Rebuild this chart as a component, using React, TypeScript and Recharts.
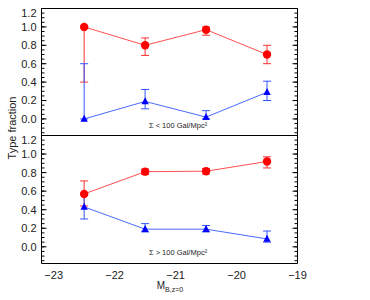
import React from "react";
import { LineChart, Line, XAxis, YAxis, ErrorBar, ReferenceDot } from "recharts";

const FONT = "'Liberation Sans', Arial, Helvetica, sans-serif";

// magnitude bins, M_B at z=0
const magBins = [-22.5, -21.5, -20.5, -19.5];

// Σ < 100 Gal/Mpc²
const lowEarly = [1.0, 0.8, 0.97, 0.7];
const lowEarlyLo = [0.4, 0.69, 0.91, 0.6];
const lowEarlyHi = [1.0, 0.88, 1.0, 0.8];
const lowLate = [0.0, 0.19, 0.02, 0.29];
const lowLateLo = [0.0, 0.11, 0.0, 0.2];
const lowLateHi = [0.6, 0.32, 0.09, 0.41];

// Σ > 100 Gal/Mpc²
const highEarly = [0.57, 0.81, 0.815, 0.92];
const highEarlyLo = [0.44, 0.78, 0.785, 0.85];
const highEarlyHi = [0.71, 0.84, 0.845, 0.97];
const highLate = [0.43, 0.19, 0.19, 0.085];
const highLateLo = [0.3, 0.16, 0.16, 0.05];
const highLateHi = [0.56, 0.25, 0.23, 0.17];

const xTicks = [-23, -22, -21, -20, -19];
const yTicks = [0, 0.2, 0.4, 0.6, 0.8, 1.0, 1.2];
const xDomain = [-23.2, -19];
const yDomain = [-0.18, 1.2];

// minor tick positions (not data)
function steps(from: number, to: number, step: number) {
  const out: number[] = [];
  for (let v = from; v <= to + 1e-9; v += step) out.push(Math.round(v * 1000) / 1000);
  return out;
}
const xMinor = steps(-23.2, -19, 0.1);
const yMinor = steps(-0.15, 1.2, 0.05);

function rows(e: number[], eLo: number[], eHi: number[], l: number[], lLo: number[], lHi: number[]) {
  return magBins.map((m, i) => ({
    mag: m,
    early: e[i],
    earlyErr: [e[i] - eLo[i], eHi[i] - e[i]],
    late: l[i],
    lateErr: [l[i] - lLo[i], lHi[i] - l[i]],
  }));
}

const lowData = rows(lowEarly, lowEarlyLo, lowEarlyHi, lowLate, lowLateLo, lowLateHi);
const highData = rows(highEarly, highEarlyLo, highEarlyHi, highLate, highLateLo, highLateHi);

const blank = () => <g />;
const minus = (v: number) => String(v).replace("-", "\u2212");
const THIN = 0.01; // mirrored tick-only axes take no room

const circleDot = (p: any) => (
  <circle key={`c-${p.index}`} cx={p.cx} cy={p.cy} r={4.2} fill="#ff0000" />
);
const triDot = (p: any) => (
  <path
    key={`t-${p.index}`}
    d={`M${p.cx},${p.cy - 4.2}L${p.cx + 3.7},${p.cy + 2.8}L${p.cx - 3.7},${p.cy + 2.8}Z`}
    fill="#0000ff"
  />
);

function YTick(props: any) {
  const { x, y, payload } = props;
  const shift = payload.value === 1.2 ? 5 : 0;
  return (
    <text x={x} y={y + shift} dy="0.355em" textAnchor="end" fontSize={11} fill="#222" fontFamily={FONT}>
      {payload.value.toFixed(1)}
    </text>
  );
}

interface PanelProps {
  data: ReturnType<typeof rows>;
  marginTop: number;
  marginBottom: number;
  showX: boolean;
  note: string;
}

function Panel({ data, marginTop, marginBottom, showX, note }: PanelProps) {
  return (
    <div style={{ position: "absolute", left: 0, top: 0 }}>
      <LineChart width={370} height={300} data={data} margin={{ top: marginTop, right: 72.5, bottom: marginBottom, left: 0 }}>
        {showX ? (
          <XAxis
            xAxisId="main" dataKey="mag" type="number" domain={xDomain} ticks={xTicks} interval={0}
            height={36.5} tickLine={false} tickSize={4} tickMargin={4} stroke="#000"
            tick={{ fill: "#222", fontSize: 11, fontFamily: FONT }} tickFormatter={minus} allowDataOverflow
          />
        ) : (
          <XAxis xAxisId="main" dataKey="mag" type="number" domain={xDomain} hide allowDataOverflow />
        )}
        <YAxis
          yAxisId="main" type="number" domain={yDomain} ticks={yTicks} interval={0} width={41.5}
          tickLine={false} tickSize={3} tickMargin={2} stroke="#000" tick={<YTick />} allowDataOverflow
        />

        {/* inward ticks and frame */}
        <XAxis xAxisId="bMaj" orientation="bottom" mirror height={THIN} type="number" domain={xDomain} ticks={xTicks} interval={0} tickSize={5} tick={blank} axisLine={!showX} stroke="#000" allowDataOverflow />
        <XAxis xAxisId="bMin" orientation="bottom" mirror height={THIN} type="number" domain={xDomain} ticks={xMinor} interval={0} tickSize={3} tick={blank} axisLine={false} stroke="#000" allowDataOverflow />
        <XAxis xAxisId="tMaj" orientation="top" mirror height={THIN} type="number" domain={xDomain} ticks={xTicks} interval={0} tickSize={5} tick={blank} stroke="#000" allowDataOverflow />
        <XAxis xAxisId="tMin" orientation="top" mirror height={THIN} type="number" domain={xDomain} ticks={xMinor} interval={0} tickSize={3} tick={blank} axisLine={false} stroke="#000" allowDataOverflow />
        <YAxis yAxisId="lMaj" orientation="left" mirror width={THIN} type="number" domain={yDomain} ticks={yTicks} interval={0} tickSize={5} tick={blank} axisLine={false} stroke="#000" allowDataOverflow />
        <YAxis yAxisId="lMin" orientation="left" mirror width={THIN} type="number" domain={yDomain} ticks={yMinor} interval={0} tickSize={3} tick={blank} axisLine={false} stroke="#000" allowDataOverflow />
        <YAxis yAxisId="rMaj" orientation="right" mirror width={THIN} type="number" domain={yDomain} ticks={yTicks} interval={0} tickSize={5} tick={blank} stroke="#000" allowDataOverflow />
        <YAxis yAxisId="rMin" orientation="right" mirror width={THIN} type="number" domain={yDomain} ticks={yMinor} interval={0} tickSize={3} tick={blank} axisLine={false} stroke="#000" allowDataOverflow />

        <Line
          xAxisId="main" yAxisId="main" dataKey="early" type="linear" stroke="#ff5050" strokeWidth={1}
          dot={circleDot} activeDot={false} isAnimationActive={false}
        >
          <ErrorBar dataKey="earlyErr" direction="y" width={4} stroke="#ff3030" strokeWidth={1} />
        </Line>
        <Line
          xAxisId="main" yAxisId="main" dataKey="late" type="linear" stroke="#4a6bff" strokeWidth={1}
          dot={triDot} activeDot={false} isAnimationActive={false}
        >
          <ErrorBar dataKey="lateErr" direction="y" width={4} stroke="#3355ff" strokeWidth={1} />
        </Line>

        <ReferenceDot
          xAxisId="main" yAxisId="main" x={-20.96} y={-0.065} r={0} stroke="none" fill="none"
          label={{ value: note, position: "center", fill: "#222", fontSize: 7.5, fontFamily: FONT }}
        />
      </LineChart>
    </div>
  );
}

export default function App() {
  return (
    <div style={{ position: "absolute", left: 0, top: 0, width: 370, height: 300, background: "#fff" }}>
      <Panel data={lowData} marginTop={8.5} marginBottom={164.5} showX={false} note={"\u03a3 < 100 Gal/Mpc\u00b2"} />
      <Panel data={highData} marginTop={135.5} marginBottom={0} showX={true} note={"\u03a3 > 100 Gal/Mpc\u00b2"} />
      <svg width={370} height={300} style={{ position: "absolute", left: 0, top: 0, pointerEvents: "none" }}>
        <text transform="translate(16,128) rotate(-90)" textAnchor="middle" fontSize={11} fontFamily={FONT} fill="#222">
          Type fraction
        </text>
        <text x={170} y={289} textAnchor="middle" fontSize={10} fontFamily={FONT} fill="#222">
          M<tspan fontSize={7} dy={3}>B,z=0</tspan>
        </text>
      </svg>
    </div>
  );
}
